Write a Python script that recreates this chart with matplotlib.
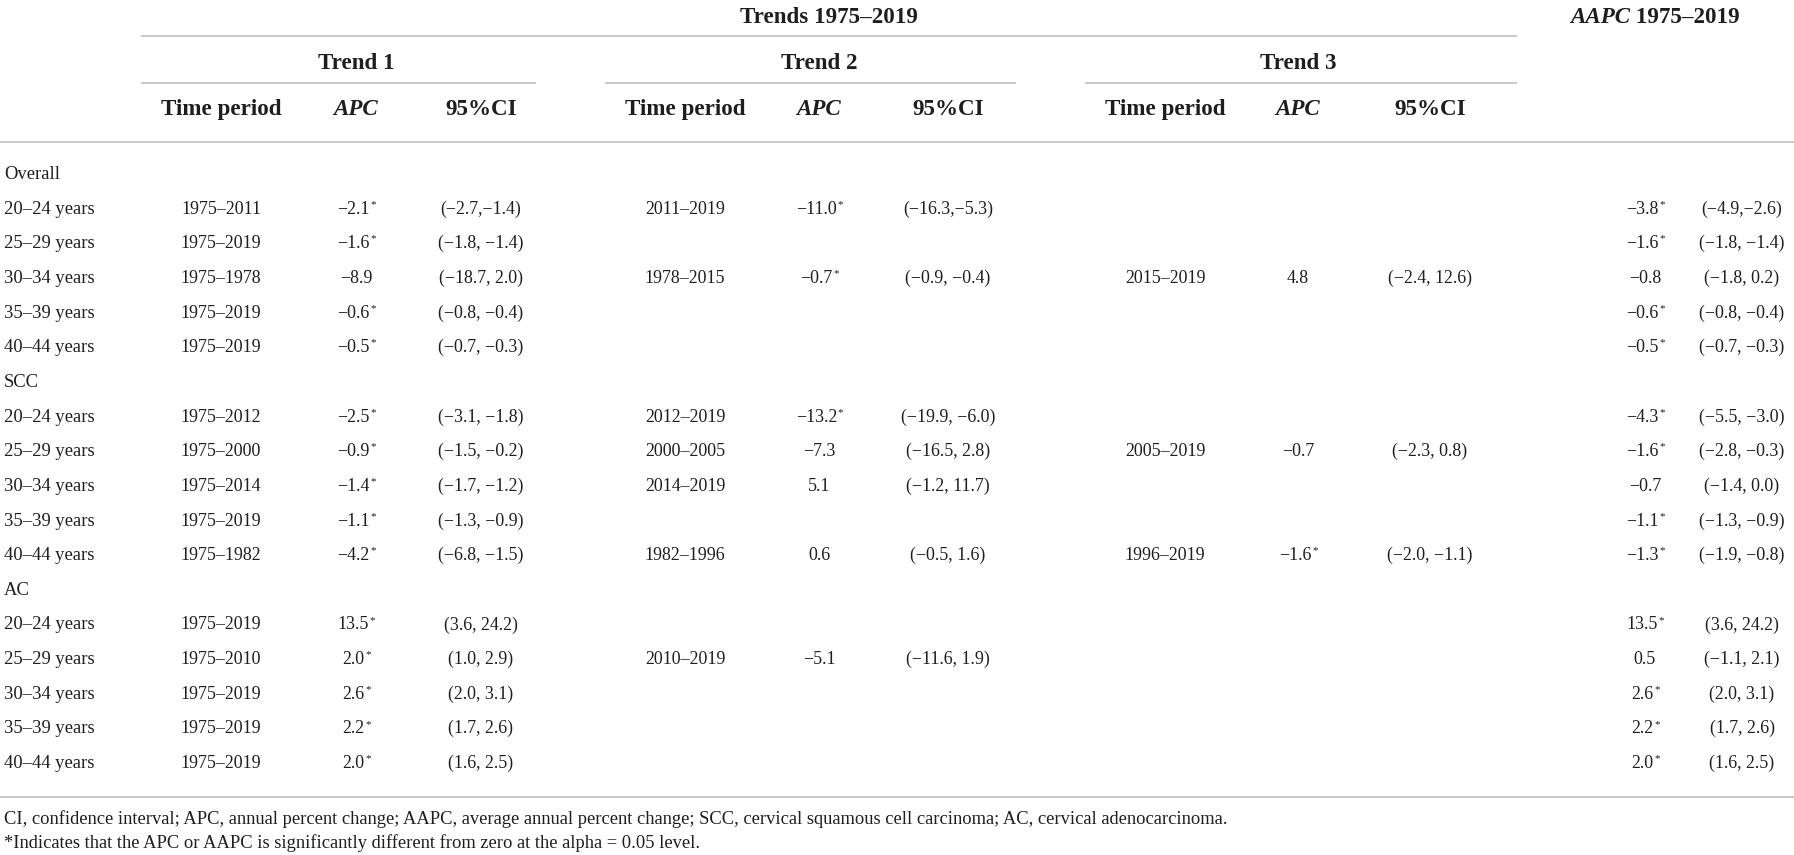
import matplotlib
matplotlib.use("Agg")
import matplotlib.pyplot as plt

# ---------------- data ----------------
groups = ["Overall", "SCC", "AC"]
ages = ["20–24 years", "25–29 years", "30–34 years", "35–39 years", "40–44 years"]

t1_period = ["1975–2011", "1975–2019", "1975–1978", "1975–2019", "1975–2019",
             "1975–2012", "1975–2000", "1975–2014", "1975–2019", "1975–1982",
             "1975–2019", "1975–2010", "1975–2019", "1975–2019", "1975–2019"]
t1_apc = ["−2.1*", "−1.6*", "−8.9", "−0.6*", "−0.5*",
          "−2.5*", "−0.9*", "−1.4*", "−1.1*", "−4.2*",
          "13.5*", "2.0*", "2.6*", "2.2*", "2.0*"]
t1_ci = ["(−2.7,−1.4)", "(−1.8, −1.4)", "(−18.7, 2.0)", "(−0.8, −0.4)", "(−0.7, −0.3)",
         "(−3.1, −1.8)", "(−1.5, −0.2)", "(−1.7, −1.2)", "(−1.3, −0.9)", "(−6.8, −1.5)",
         "(3.6, 24.2)", "(1.0, 2.9)", "(2.0, 3.1)", "(1.7, 2.6)", "(1.6, 2.5)"]

t2_period = ["2011–2019", "", "1978–2015", "", "",
             "2012–2019", "2000–2005", "2014–2019", "", "1982–1996",
             "", "2010–2019", "", "", ""]
t2_apc = ["−11.0*", "", "−0.7*", "", "",
          "−13.2*", "−7.3", "5.1", "", "0.6",
          "", "−5.1", "", "", ""]
t2_ci = ["(−16.3,−5.3)", "", "(−0.9, −0.4)", "", "",
         "(−19.9, −6.0)", "(−16.5, 2.8)", "(−1.2, 11.7)", "", "(−0.5, 1.6)",
         "", "(−11.6, 1.9)", "", "", ""]

t3_period = ["", "", "2015–2019", "", "",
             "", "2005–2019", "", "", "1996–2019",
             "", "", "", "", ""]
t3_apc = ["", "", "4.8", "", "",
          "", "−0.7", "", "", "−1.6*",
          "", "", "", "", ""]
t3_ci = ["", "", "(−2.4, 12.6)", "", "",
         "", "(−2.3, 0.8)", "", "", "(−2.0, −1.1)",
         "", "", "", "", ""]

aapc = ["−3.8*", "−1.6*", "−0.8", "−0.6*", "−0.5*",
        "−4.3*", "−1.6*", "−0.7", "−1.1*", "−1.3*",
        "13.5*", "0.5", "2.6*", "2.2*", "2.0*"]
aapc_ci = ["(−4.9,−2.6)", "(−1.8, −1.4)", "(−1.8, 0.2)", "(−0.8, −0.4)", "(−0.7, −0.3)",
           "(−5.5, −3.0)", "(−2.8, −0.3)", "(−1.4, 0.0)", "(−1.3, −0.9)", "(−1.9, −0.8)",
           "(3.6, 24.2)", "(−1.1, 2.1)", "(2.0, 3.1)", "(1.7, 2.6)", "(1.6, 2.5)"]

trend_titles = ["Trend 1", "Trend 2", "Trend 3"]
sub_headers = ["Time period", "APC", "95%CI"]
footnotes = [
    "CI, confidence interval; APC, annual percent change; AAPC, average annual percent change; "
    "SCC, cervical squamous cell carcinoma; AC, cervical adenocarcinoma.",
    "*Indicates that the APC or AAPC is significantly different from zero at the alpha = 0.05 level.",
]

# ---------------- layout ----------------
W, H = 1794, 855
FONT = "Liberation Serif"
TXT = "#1e1e1e"
RULE = "#c9c9c9"
BODY = 12.9
LABEL = 13.4
FOOT = 13.3
HEAD = 16.6

fig = plt.figure(figsize=(W / 100, H / 100), dpi=100)
ax = fig.add_axes([0, 0, 1, 1])
ax.set_xlim(0, W)
ax.set_ylim(H, 0)
ax.axis("off")


def hline(x0, x1, y, lw=2.0):
    ax.plot([x0, x1], [y, y], color=RULE, lw=lw * 0.72, solid_capstyle="butt")


def body(x, y, s, ha="center"):
    if not s:
        return
    star = s.endswith("*")
    core = s[:-1] if star else s
    t = ax.text(x - (2.5 if star else 0), y + 6, core, ha=ha, va="baseline",
                fontsize=BODY, family=FONT, color=TXT)
    if star:
        ax.annotate("*", xy=(1, 1), xycoords=t, xytext=(0.3, 0.5),
                    textcoords="offset points", ha="left", va="top",
                    fontsize=BODY * 0.62, family=FONT, color=TXT)


col_x = {
    "t1": (221, 356, 481),
    "t2": (685, 819, 948),
    "t3": (1165, 1298, 1430),
    "aapc": (1645, 1742),
}
trend_rules = [(141, 536), (605, 1016), (1085, 1517)]

# top header
ax.text((141 + 1517) / 2, 16 + 7, "Trends 1975–2019", ha="center", va="baseline",
        fontsize=HEAD, family=FONT, weight="bold", color=TXT)
fig.canvas.draw()
r = fig.canvas.get_renderer()
ta = ax.text(0, 23, "AAPC", ha="left", va="baseline", fontsize=HEAD, family=FONT,
             weight="bold", style="italic", color=TXT)
tb = ax.text(0, 23, " 1975–2019", ha="left", va="baseline", fontsize=HEAD, family=FONT,
             weight="bold", color=TXT)
wa = ta.get_window_extent(r).width
wb = tb.get_window_extent(r).width
x0 = 1655 - (wa + wb) / 2
ta.set_x(x0)
tb.set_x(x0 + wa)

hline(141, 1517, 36)
for (a, b), title, key in zip(trend_rules, trend_titles, ("t1", "t2", "t3")):
    ax.text(col_x[key][1], 62 + 7, title, ha="center", va="baseline",
            fontsize=HEAD, family=FONT, weight="bold", color=TXT)
    hline(a, b, 83)

for key in ("t1", "t2", "t3"):
    for xx, h in zip(col_x[key], sub_headers):
        ax.text(xx, 108 + 7, h, ha="center", va="baseline", fontsize=HEAD,
                family=FONT, weight="bold", style="italic" if h == "APC" else "normal",
                color=TXT)

hline(0, W, 142)

# body rows
y0, dy = 173, 34.65
row = 0
for g, grp in enumerate(groups):
    y = y0 + dy * row
    ax.text(4, y + 6, grp, ha="left", va="baseline", fontsize=LABEL, family=FONT, color=TXT)
    row += 1
    for a, age in enumerate(ages):
        i = g * 5 + a
        y = y0 + dy * row
        ax.text(4, y + 6, age, ha="left", va="baseline", fontsize=LABEL, family=FONT, color=TXT)
        body(col_x["t1"][0], y, t1_period[i])
        body(col_x["t1"][1], y, t1_apc[i])
        body(col_x["t1"][2], y, t1_ci[i])
        body(col_x["t2"][0], y, t2_period[i])
        body(col_x["t2"][1], y, t2_apc[i])
        body(col_x["t2"][2], y, t2_ci[i])
        body(col_x["t3"][0], y, t3_period[i])
        body(col_x["t3"][1], y, t3_apc[i])
        body(col_x["t3"][2], y, t3_ci[i])
        body(col_x["aapc"][0], y, aapc[i])
        body(col_x["aapc"][1], y, aapc_ci[i])
        row += 1

hline(0, W, 797)

ax.text(4, 818 + 6, footnotes[0], ha="left", va="baseline", fontsize=FOOT,
        family=FONT, color=TXT)
ax.text(4, 842 + 6, footnotes[1], ha="left", va="baseline", fontsize=FOOT,
        family=FONT, color=TXT)

fig.savefig("out.png", dpi=100, facecolor="white")
